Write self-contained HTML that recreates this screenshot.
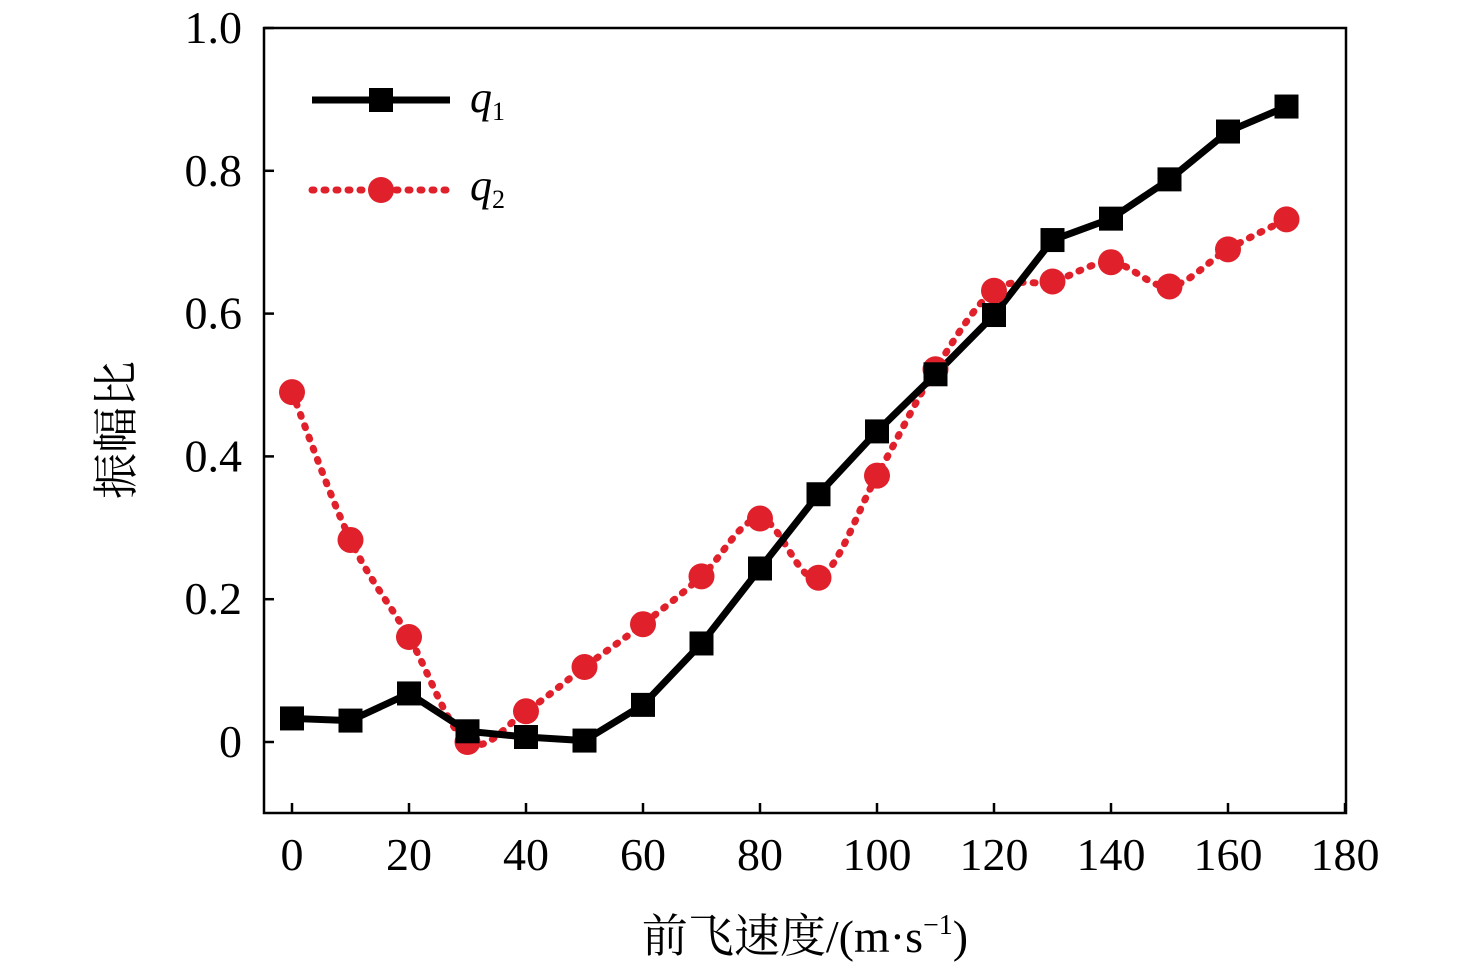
<!DOCTYPE html>
<html><head><meta charset="utf-8"><style>
body{margin:0;background:#fff;}
svg text{font-family:"Liberation Serif","Noto Serif CJK SC",serif;}
</style></head><body>
<svg id="chart" width="1476" height="967">
<rect x="264" y="28" width="1082" height="785" fill="none" stroke="#000" stroke-width="2.5"/>
<g id="ticks"></g><g id="series"></g>
<text x="132" y="430" font-size="46" text-anchor="middle" transform="rotate(-90 132 430)">振幅比</text>
<text x="805" y="952" font-size="46" text-anchor="middle">前飞速度/(m·s<tspan dy="-18" font-size="28">−1</tspan><tspan dy="18">)</tspan></text>
<g>
<line x1="312" y1="100" x2="450" y2="100" stroke="#000" stroke-width="7"/>
<rect x="369" y="88" width="24" height="24" fill="#000"/>
<text x="470" y="112" font-size="44" font-style="italic">q<tspan font-size="26" font-style="normal" dy="8">1</tspan></text>
<line x1="312" y1="190" x2="450" y2="190" stroke="#e0202a" stroke-width="7" stroke-dasharray="2 10" stroke-linecap="round"/>
<circle cx="381" cy="190" r="13" fill="#e0202a"/>
<text x="470" y="200" font-size="44" font-style="italic">q<tspan font-size="26" font-style="normal" dy="8">2</tspan></text>
</g>
</svg>
<script>
const speeds=[0,10,20,30,40,50,60,70,80,90,100,110,120,130,140,150,160,170];
const q1=[0.033,0.03,0.068,0.015,0.007,0.002,0.052,0.138,0.243,0.347,0.435,0.515,0.598,0.703,0.733,0.788,0.855,0.89];
const q2=[0.49,0.283,0.147,0.0,0.043,0.105,0.165,0.232,0.313,0.23,0.373,0.522,0.632,0.645,0.672,0.638,0.69,0.732];
const xTicks=[0,20,40,60,80,100,120,140,160,180];
const yTicks=[0,0.2,0.4,0.6,0.8,1.0];
const yLabels=["0","0.2","0.4","0.6","0.8","1.0"];
const X=v=>292+v*(1345-292)/180;
const Y=v=>742-v*(742-28);
const NS="http://www.w3.org/2000/svg";
const tg=document.getElementById('ticks'),sg=document.getElementById('series');
function mk(tag,a,p){const e=document.createElementNS(NS,tag);for(const k in a)e.setAttribute(k,a[k]);p.appendChild(e);return e;}
xTicks.forEach(t=>{
 const l=mk('line',{x1:X(t),x2:X(t),y1:813,y2:803,stroke:'#000','stroke-width':2.5},tg);
 
 
 const tx=mk('text',{x:X(t),y:870,'font-size':46,'text-anchor':'middle'},tg);tx.textContent=t;
 
 
});
yTicks.forEach((t,i)=>{
 const l=mk('line',{x1:264,x2:274,y1:Y(t),y2:Y(t),stroke:'#000','stroke-width':2.5},tg);
 
 
 const tx=mk('text',{x:242,y:Y(t)+15,'font-size':46,'text-anchor':'end'},tg);tx.textContent=yLabels[i];
 
 
});
const p2=speeds.map((s,i)=>[X(s),Y(q2[i])]);
let d='M'+p2[0].join(',');
for(let i=0;i<p2.length-1;i++){
 const a=p2[Math.max(0,i-1)],b=p2[i],c=p2[i+1],e=p2[Math.min(p2.length-1,i+2)];
 d+=` C${b[0]+(c[0]-a[0])/6},${b[1]+(c[1]-a[1])/6} ${c[0]-(e[0]-b[0])/6},${c[1]-(e[1]-b[1])/6} ${c[0]},${c[1]}`;
}
const l2=mk('path',{d:d,fill:'none',stroke:'#e0202a','stroke-width':7,'stroke-dasharray':'2 10','stroke-linecap':'round'},sg);


const l1=mk('polyline',{points:speeds.map((s,i)=>X(s)+','+Y(q1[i])).join(' '),fill:'none',stroke:'#000','stroke-width':7,'stroke-linejoin':'round'},sg);


speeds.forEach((s,i)=>{
 const c=mk('circle',{cx:X(s),cy:Y(q2[i]),r:13,fill:'#e0202a'},sg);
 
 
});
speeds.forEach((s,i)=>{
 const r=mk('rect',{x:X(s)-12,y:Y(q1[i])-12,width:24,height:24,fill:'#000'},sg);
 
 
});
</script>
</body></html>
